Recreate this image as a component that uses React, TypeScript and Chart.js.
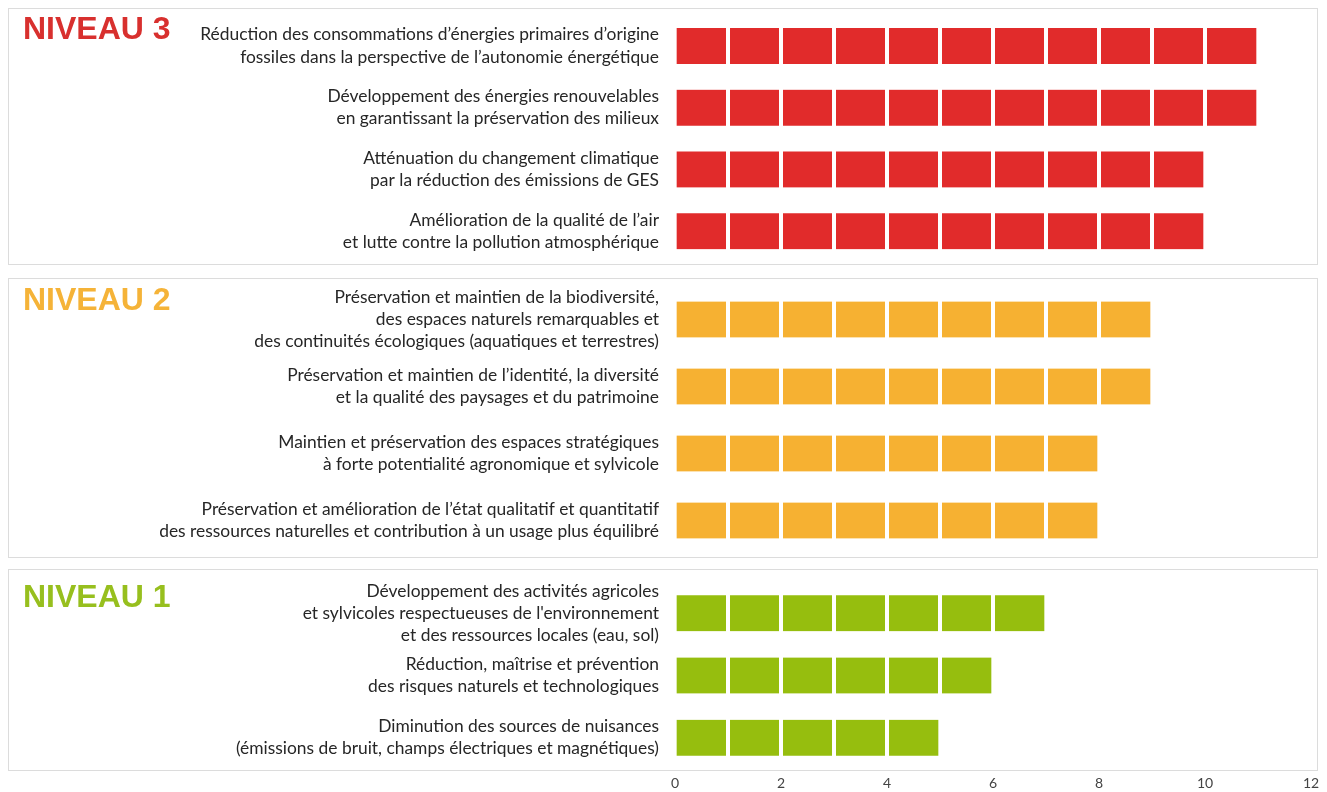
import React, { useEffect, useRef } from "react";
import { Chart, registerables } from "chart.js";

Chart.register(...registerables);

// ---------- data ----------
const niveau3Labels = [
  ["Réduction des consommations d’énergies primaires d’origine", "fossiles dans la perspective de l’autonomie énergétique"],
  ["Développement des énergies renouvelables", "en garantissant la préservation des milieux"],
  ["Atténuation du changement climatique", "par la réduction des émissions de GES"],
  ["Amélioration de la qualité de l’air", "et lutte contre la pollution atmosphérique"],
];
const niveau3Values = [11, 11, 10, 10];

const niveau2Labels = [
  [
    "Préservation et maintien de la biodiversité,",
    "des espaces naturels remarquables et",
    "des continuités écologiques (aquatiques et terrestres)",
  ],
  ["Préservation et maintien de l’identité, la diversité", "et la qualité des paysages et du patrimoine"],
  ["Maintien et préservation des espaces stratégiques", "à forte potentialité agronomique et sylvicole"],
  [
    "Préservation et amélioration de l’état qualitatif et quantitatif",
    "des ressources naturelles et contribution à un usage plus équilibré",
  ],
];
const niveau2Values = [9, 9, 8, 8];

const niveau1Labels = [
  [
    "Développement des activités agricoles",
    "et sylvicoles respectueuses de l'environnement",
    "et des ressources locales (eau, sol)",
  ],
  ["Réduction, maîtrise et prévention", "des risques naturels et technologiques"],
  ["Diminution des sources de nuisances", "(émissions de bruit, champs électriques et magnétiques)"],
];
const niveau1Values = [7, 6, 5];

const xTickValues = [0, 2, 4, 6, 8, 10, 12];

const levelTitles = ["NIVEAU 3", "NIVEAU 2", "NIVEAU 1"];

// ---------- plugin: split each bar into unit squares ----------
const GAP = 4;
const unitSplitter = {
  id: "unitSplitter",
  afterDatasetsDraw(chart: any) {
    const ctx = chart.ctx;
    const xs = chart.scales.x;
    chart.data.datasets.forEach((ds: any, di: number) => {
      const meta = chart.getDatasetMeta(di);
      meta.data.forEach((bar: any, i: number) => {
        const v = ds.data[i];
        const { y, height } = bar.getProps(["y", "height"], true);
        ctx.save();
        ctx.fillStyle = "#ffffff";
        for (let k = 1; k < v; k++) {
          const px = xs.getPixelForValue(k);
          ctx.fillRect(px - GAP / 2, y - height / 2 - 1, GAP, height + 2);
        }
        ctx.restore();
      });
    });
  },
};

type PanelProps = {
  labels: string[][];
  values: number[];
  color: string;
  top: number;
  height: number;
  showAxis: boolean;
};

function PanelChart({ labels, values, color, top, height, showAxis }: PanelProps) {
  const ref = useRef<HTMLCanvasElement>(null);
  useEffect(() => {
    const chart = new Chart(ref.current as HTMLCanvasElement, {
      type: "bar",
      data: {
        labels,
        datasets: [
          {
            data: values,
            backgroundColor: color,
            borderColor: "#ffffff",
            borderWidth: { left: GAP / 2, right: GAP / 2, top: 0, bottom: 0 },
            borderSkipped: false,
            barThickness: 36,
          },
        ],
      },
      options: {
        indexAxis: "y",
        animation: false,
        responsive: false,
        maintainAspectRatio: false,
        layout: { padding: { left: 0, right: 16, top: 0, bottom: 0 } },
        plugins: {
          legend: { display: false },
          tooltip: { enabled: false },
        },
        scales: {
          x: {
            type: "linear",
            min: 0,
            max: 12,
            display: showAxis,
            grid: { display: false, drawTicks: false },
            border: { display: false },
            ticks: {
              padding: 6,
              color: "#444444",
              font: { family: "Lato", size: 14 },
            },
            afterBuildTicks(s: any) {
              s.ticks = xTickValues.map((v) => ({ value: v }));
            },
            afterFit(s: any) {
              s.height = showAxis ? 22 : 0;
              s.paddingLeft = 0;
              s.paddingRight = 0;
            },
          },
          y: {
            grid: { display: false, drawTicks: false },
            border: { display: false },
            ticks: {
              padding: 16,
              autoSkip: false,
              color: "#262626",
              font: { family: "Lato", size: 17.4, lineHeight: 1.27 },
            },
            afterFit(s: any) {
              s.width = 667;
              s.paddingTop = 0;
              s.paddingBottom = 0;
            },
          },
        },
      } as any,
      plugins: [unitSplitter],
    });
    return () => chart.destroy();
  }, []);
  return (
    <canvas
      ref={ref}
      width={1319}
      height={height}
      style={{ position: "absolute", left: 8, top, width: 1319, height }}
    />
  );
}

const panelBox = (top: number, height: number): React.CSSProperties => ({
  position: "absolute",
  left: 8,
  top,
  width: 1310,
  height,
  boxSizing: "border-box",
  border: "1px solid #dcdcdc",
  background: "#ffffff",
});

const titleStyle = (top: number, color: string): React.CSSProperties => ({
  position: "absolute",
  left: 23,
  top,
  fontFamily: "'Liberation Sans', Arial, sans-serif",
  fontWeight: 700,
  fontSize: 32,
  lineHeight: "32px",
  color,
  whiteSpace: "nowrap",
});

export default function App() {
  return (
    <div
      style={{
        position: "fixed",
        left: 0,
        top: 0,
        width: 1327,
        height: 792,
        overflow: "hidden",
        background: "#ffffff",
      }}
    >
      <div style={panelBox(8, 257)} />
      <div style={panelBox(278, 280)} />
      <div style={panelBox(569, 202)} />

      <PanelChart labels={niveau3Labels} values={niveau3Values} color="#e12b2b" top={15} height={247} showAxis={false} />
      <PanelChart labels={niveau2Labels} values={niveau2Values} color="#f6b132" top={286} height={268} showAxis={false} />
      <PanelChart labels={niveau1Labels} values={niveau1Values} color="#96be0e" top={582} height={209} showAxis={true} />

      <div style={titleStyle(12, "#d8302e")}>{levelTitles[0]}</div>
      <div style={titleStyle(283, "#f5b338")}>{levelTitles[1]}</div>
      <div style={titleStyle(580, "#97bf1e")}>{levelTitles[2]}</div>
    </div>
  );
}
